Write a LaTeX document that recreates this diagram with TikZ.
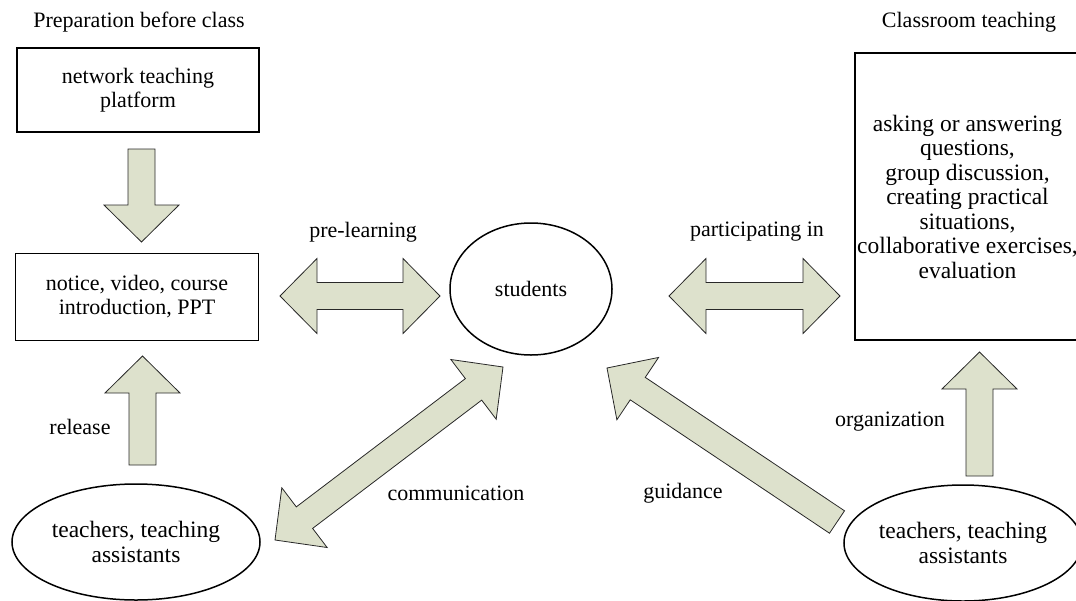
\documentclass[tikz,border=0pt]{standalone}
\usepackage{fontspec}
\setmainfont{Liberation Serif}
\usetikzlibrary{calc,shapes.geometric}
\definecolor{arrowfill}{RGB}{221,225,204}
\definecolor{arrowline}{RGB}{40,40,40}
\tikzset{
  blk/.style={fill=arrowfill,draw=arrowline,line width=0.8pt,line join=miter},
  boxnode/.style={draw=black,line width=1.5pt,rectangle,inner sep=0pt,align=center},
  ellnode/.style={draw=black,line width=1.5pt,ellipse,inner sep=0pt,align=center},
  lbl/.style={inner sep=0pt,align=center},
  bigtext/.style={font=\fontsize{23.5}{24.5}\selectfont},
}
\newcommand{\singlearrow}[2]{%
\draw[blk] ($(#1)!13.5pt!90:(#2)$) -- ($(#2)!37pt!(#1)!13.5pt!-90:(#1)$) -- ($(#2)!37pt!(#1)!37.5pt!-90:(#1)$) -- (#2) -- ($(#2)!37pt!(#1)!37.5pt!90:(#1)$) -- ($(#2)!37pt!(#1)!13.5pt!90:(#1)$) -- ($(#1)!13.5pt!-90:(#2)$) -- cycle;}
\newcommand{\doublearrow}[2]{%
\draw[blk] (#1) -- ($(#1)!37pt!(#2)!37.5pt!90:(#2)$) -- ($(#1)!37pt!(#2)!13.5pt!90:(#2)$) -- ($(#2)!37pt!(#1)!13.5pt!-90:(#1)$) -- ($(#2)!37pt!(#1)!37.5pt!-90:(#1)$) -- (#2) -- ($(#2)!37pt!(#1)!37.5pt!90:(#1)$) -- ($(#2)!37pt!(#1)!13.5pt!90:(#1)$) -- ($(#1)!37pt!(#2)!13.5pt!-90:(#2)$) -- ($(#1)!37pt!(#2)!37.5pt!-90:(#2)$) -- cycle;}
\begin{document}
\begin{tikzpicture}[x=1pt,y=-1pt,font=\fontsize{22}{24}\selectfont]
\useasboundingbox (0,0) rectangle (1076,600);
% titles
\node[lbl] (tprep) at (139,22) {Preparation before class};
\node[lbl] (tclass) at (969,22) {Classroom teaching};
% boxes
\node[boxnode,minimum width=242pt,minimum height=84pt] (plat) at (138,90) {network teaching\\platform};
\node[boxnode,minimum width=243pt,minimum height=87pt] (notice) at (137,297) {notice, video, course\\introduction, PPT};
\node[boxnode,bigtext,minimum width=225pt,minimum height=287pt] (act) at (967.5,196.5) {asking or answering\\questions,\\group discussion,\\creating practical\\situations,\\collaborative exercises,\\evaluation};
% ellipses
\node[ellnode,minimum width=162pt,minimum height=132pt] (stu) at (531,289) {students};
\node[ellnode,bigtext,minimum width=248pt,minimum height=116pt] (tl) at (136,542) {teachers, teaching\\assistants};
\node[ellnode,bigtext,minimum width=236pt,minimum height=116pt] (tr) at (963,543) {teachers, teaching\\assistants};
% arrow end points
\coordinate (a1s) at (141.5,149);
\coordinate (a1e) at (141.5,242);
\coordinate (a2s) at (142.5,465);
\coordinate (a2e) at (142.5,356);
\coordinate (a3s) at (280,296);
\coordinate (a3e) at (440,296);
\coordinate (a4s) at (669,296);
\coordinate (a4e) at (840,296);
\coordinate (a5s) at (275,540);
\coordinate (a5e) at (503,367);
\coordinate (a6s) at (837,522);
\coordinate (a6e) at (607,368);
\coordinate (a7s) at (979.5,476);
\coordinate (a7e) at (979.5,352);
% block arrows
\singlearrow{a1s}{a1e}
\singlearrow{a2s}{a2e}
\doublearrow{a3s}{a3e}
\doublearrow{a4s}{a4e}
\doublearrow{a5s}{a5e}
\singlearrow{a6s}{a6e}
\singlearrow{a7s}{a7e}
% labels
\node[lbl] (lpre) at (363,232) {pre-learning};
\node[lbl] (lpart) at (757,232) {participating in};
\node[lbl] (lrel) at (80,427) {release};
\node[lbl] (lcom) at (456,493) {communication};
\node[lbl] (lgui) at (683,493) {guidance};
\node[lbl] (lorg) at (890,422) {organization};
\end{tikzpicture}
\end{document}
